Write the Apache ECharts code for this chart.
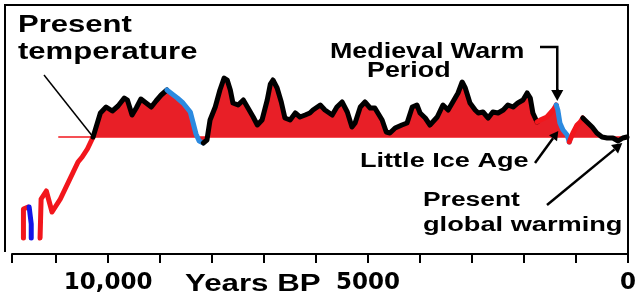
<!DOCTYPE html>
<html>
<head>
<meta charset="utf-8">
<script src="https://cdn.jsdelivr.net/npm/echarts@6/dist/echarts.min.js"></script>
<style>
  html, body { margin: 0; padding: 0; background: #fff; }
  #main { width: 639px; height: 299px; }
</style>
</head>
<body>
<div id="main"></div>
<script>
// [years BP, temperature relative to present]
const glacialRed = [[11630, -10.1], [11630, -7.2], [11540, -7.0]];
const glacialBlue = [[11520, -7.0], [11480, -8.7], [11480, -10.1]];
const deglacialRed = [[11310, -10.1], [11290, -6.2], [11190, -5.4], [11080, -7.5], [10920, -6.2],
  [10580, -2.5], [10500, -2.0], [10400, -1.2], [10290, 0]];
const holoceneEarly = [[10290, 0], [10150, 2.4], [10040, 3.0], [9920, 2.6], [9810, 3.1], [9690, 3.9],
  [9630, 3.7], [9540, 2.2], [9460, 2.9], [9370, 3.8], [9270, 3.4], [9170, 3.0], [9080, 3.6],
  [8980, 4.2], [8870, 4.7]];
const coolingBlue = [[8870, 4.7], [8670, 3.9], [8560, 3.4], [8420, 2.5], [8370, 1.5], [8310, 0.3],
  [8250, -0.4], [8170, -0.6]];
const holoceneMain = [[8170, -0.6], [8100, -0.3], [8040, 1.7], [7940, 3.0], [7850, 4.7], [7770, 5.9],
  [7710, 5.7], [7650, 4.7], [7600, 3.4], [7500, 3.2], [7400, 3.7], [7310, 2.9], [7210, 2.0],
  [7130, 1.2], [7040, 1.7], [6940, 3.7], [6880, 5.3], [6830, 5.7], [6750, 4.9], [6670, 3.5],
  [6600, 1.9], [6500, 1.7], [6400, 2.4], [6310, 2.0], [6210, 2.2], [6120, 2.4], [6060, 2.7],
  [5920, 3.2], [5830, 2.7], [5690, 2.2], [5600, 3.0], [5500, 3.5], [5400, 2.5], [5310, 1.0],
  [5250, 1.4], [5150, 3.0], [5060, 3.5], [4960, 2.9], [4870, 2.9], [4730, 1.7], [4650, 0.5],
  [4580, 0.4], [4480, 0.9], [4350, 1.2], [4250, 1.4], [4150, 3.0], [4060, 3.2], [4000, 2.4],
  [3900, 1.9], [3810, 1.2], [3670, 2.0], [3560, 3.2], [3460, 2.7], [3370, 3.5], [3270, 4.4],
  [3190, 5.5], [3130, 4.9], [3040, 3.4], [2940, 2.7], [2880, 2.4], [2790, 2.5], [2690, 1.9],
  [2600, 2.5], [2500, 2.4], [2400, 2.7], [2310, 3.2], [2210, 3.0], [2120, 3.4], [2020, 3.7],
  [1940, 4.4], [1880, 3.9], [1830, 2.4], [1750, 1.5]];
const medievalRed = [[1750, 1.5], [1690, 1.7], [1560, 2.0], [1440, 2.7], [1380, 3.2]];
const littleIceBlue = [[1380, 3.2], [1350, 2.7], [1310, 1.4], [1250, 0.7], [1170, 0.2], [1130, -0.5]];
const recoveryRed = [[1130, -0.5], [1060, 0.4], [980, 1.2], [920, 1.5], [870, 1.9]];
const modernBlack = [[870, 1.9], [790, 1.5], [690, 1.0], [600, 0.4], [500, 0], [400, -0.1],
  [290, -0.1], [190, -0.4], [100, -0.1], [20, 0]];
const presentLevel = [[10960, 0], [0, 0]];

const tickYears = [10000, 5000, 0];
const tickLabels = ['10,000', '5000', '0'];

const RED = '#f2161c';
const FILL = '#e81f27';
const LIGHT_BLUE = '#2b8ae0';
const DARK_BLUE = '#1414e6';

const holoceneFill = [].concat(holoceneEarly, coolingBlue, holoceneMain, medievalRed,
  littleIceBlue, recoveryRed, modernBlack);

function seg(data, color, width) {
  return {
    type: 'line', data: data, showSymbol: false, symbol: 'none', silent: true, z: 4,
    lineStyle: { color: color, width: width, join: 'round', cap: 'round' }
  };
}

const chart = echarts.init(document.getElementById('main'));
chart.setOption({
  animation: false,
  grid: { left: 12, right: 11, top: 5, bottom: 45, containLabel: false, outerBoundsMode: 'none' },
  xAxis: {
    type: 'value', inverse: true, min: 0, max: 11850, interval: 1000,
    axisLine: { onZero: false, lineStyle: { color: '#000', width: 2 } },
    axisTick: { length: 9, lineStyle: { color: '#000', width: 2 } },
    splitLine: { show: false },
    axisLabel: {
      margin: 18, color: '#000', fontFamily: 'DejaVu Sans', fontWeight: 'bold', fontSize: 23,
      formatter: function (v) {
        const i = tickYears.indexOf(v);
        return i < 0 ? '' : tickLabels[i];
      }
    }
  },
  yAxis: { type: 'value', min: -11.7, max: 13.2, show: false },
  series: [
    { type: 'line', data: presentLevel, showSymbol: false, symbol: 'none', silent: true, z: 1,
      lineStyle: { color: RED, width: 1.5 } },
    { type: 'line', data: holoceneFill, showSymbol: false, symbol: 'none', silent: true, z: 2,
      lineStyle: { width: 0 }, areaStyle: { color: FILL, opacity: 1, origin: 0 } },
    seg(glacialRed, RED, 5),
    seg(glacialBlue, DARK_BLUE, 5),
    seg(deglacialRed, RED, 5),
    seg(holoceneEarly, '#000', 5),
    seg(coolingBlue, LIGHT_BLUE, 5),
    seg(holoceneMain, '#000', 5),
    seg(medievalRed, RED, 5),
    seg(littleIceBlue, LIGHT_BLUE, 5),
    seg(recoveryRed, RED, 5),
    seg(modernBlack, '#000', 5)
  ]
});

// annotations
const px = function (d) { return chart.convertToPixel({ gridIndex: 0 }, d); };

function label(text, x, y, size, sx) {
  return {
    type: 'text', x: x, y: y, scaleX: sx, z: 10,
    style: {
      text: text, font: 'bold ' + size + 'px "Liberation Sans", Arial, sans-serif', fill: '#000',
      textAlign: 'left', align: 'left', textVerticalAlign: 'middle', verticalAlign: 'middle'
    }
  };
}

function arrow(x1, y1, x2, y2, w, head) {
  const a = Math.atan2(y2 - y1, x2 - x1);
  const bx = x2 - head * Math.cos(a), by = y2 - head * Math.sin(a);
  const nx = -Math.sin(a) * head * 0.55, ny = Math.cos(a) * head * 0.55;
  return [
    { type: 'line', z: 10, shape: { x1: x1, y1: y1, x2: bx, y2: by }, style: { stroke: '#000', lineWidth: w } },
    { type: 'polygon', z: 10, shape: { points: [[x2, y2], [bx + nx, by + ny], [bx - nx, by - ny]] }, style: { fill: '#000' } }
  ];
}

const ptPresent = px([10290, 0]);
const ptMedieval = px([1380, 3.2]);
const ptLittleIce = px([1340, 0.6]);
const ptModern = px([110, -0.6]);

const graphics = [
  // frame
  { type: 'polyline', z: 9, shape: { points: [[5, 252], [5, 5], [628, 5], [628, 254]] },
    style: { stroke: '#000', lineWidth: 2, fill: null } },
  label('Present', 18, 25.5, 23, 1.35),
  label('temperature', 18, 52.5, 23, 1.35),
  { type: 'line', z: 10, shape: { x1: 44, y1: 75, x2: ptPresent[0], y2: ptPresent[1] },
    style: { stroke: '#000', lineWidth: 1.5 } },
  label('Medieval Warm', 330, 51.5, 22, 1.22),
  label('Period', 367, 70.5, 22, 1.22),
  { type: 'polyline', z: 10, shape: { points: [[540, 47], [ptMedieval[0] + 1, 47], [ptMedieval[0] + 1, ptMedieval[1] - 14]] },
    style: { stroke: '#000', lineWidth: 2.5, fill: null } },
  label('Little Ice Age', 360, 161, 21, 1.29),
  label('Present', 423, 200.5, 20, 1.32),
  label('global warming', 423, 225.5, 20, 1.36),
  label('Years BP', 185, 284.5, 23, 1.36)
].concat(
  arrow(ptMedieval[0] + 1, ptMedieval[1] - 16, ptMedieval[0] + 1, ptMedieval[1] - 4, 2.5, 11),
  arrow(535, 163, ptLittleIce[0], ptLittleIce[1], 2.5, 9),
  arrow(547, 205, ptModern[0], ptModern[1], 2.5, 10)
);

chart.setOption({ graphic: graphics });
</script>
</body>
</html>
